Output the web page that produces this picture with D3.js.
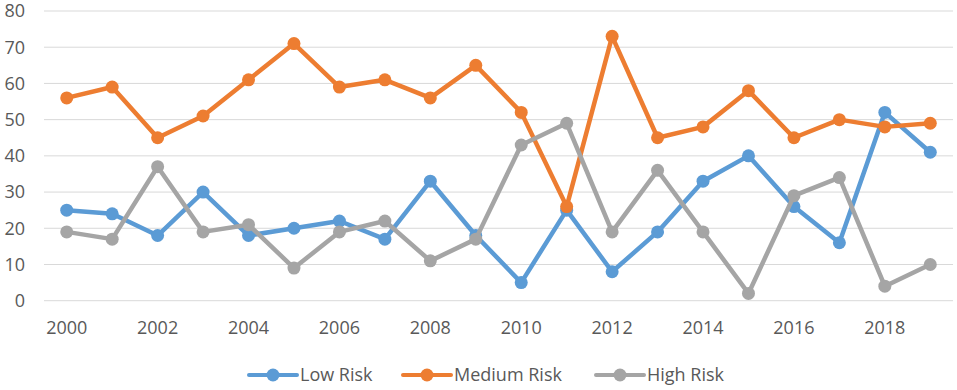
<!DOCTYPE html>
<html>
<head>
<meta charset="utf-8">
<script src="https://cdn.jsdelivr.net/npm/d3@7"></script>
<style>
  body { margin: 0; background: #fff; }
  .label { font-family: "Open Sans", "Liberation Sans", sans-serif; font-size: 18px; fill: #595959; }
</style>
</head>
<body>
<svg id="chart" width="957" height="390"></svg>
<script>
var years = d3.range(2000, 2020);
var low_risk = [25,24,18,30,18,20,22,17,33,18,5,25,8,19,33,40,26,16,52,41];
var medium_risk = [56,59,45,51,61,71,59,61,56,65,52,26,73,45,48,58,45,50,48,49];
var high_risk = [19,17,37,19,21,9,19,22,11,17,43,49,19,36,19,2,29,34,4,10];
var y_ticks = [0,10,20,30,40,50,60,70,80];
var x_ticks = [2000,2002,2004,2006,2008,2010,2012,2014,2016,2018];

var series = [
	{ name: "Low Risk", values: low_risk, color: "#5B9BD5" },
	{ name: "Medium Risk", values: medium_risk, color: "#ED7D31" },
	{ name: "High Risk", values: high_risk, color: "#A5A5A5" }
];

var svg = d3.select("#chart");

var xScale = d3.scalePoint()
			   .domain(years)
			   .range([44, 953])
			   .padding(0.5);

var yScale = d3.scaleLinear()
			   .domain([0, 80])
			   .range([300.7, 11]);

// gridlines
svg.append("g").selectAll("line").data(y_ticks)
	.enter().append("line")
	.attr("x1", 44).attr("x2", 953)
	.attr("y1", function(d){ return yScale(d); })
	.attr("y2", function(d){ return yScale(d); })
	.style("stroke", "#d9d9d9")
	.style("stroke-width", 1);

// y labels
svg.append("g").selectAll("text").data(y_ticks)
	.enter().append("text")
	.attr("x", 25)
	.attr("y", function(d){ return yScale(d); })
	.attr("dy", "0.35em")
	.attr("text-anchor", "end")
	.text(function(d){ return d; })
	.classed("label", true);

// x labels
svg.append("g").selectAll("text").data(x_ticks)
	.enter().append("text")
	.attr("x", function(d){ return xScale(d); })
	.attr("y", 328)
	.attr("dy", "0.35em")
	.attr("text-anchor", "middle")
	.text(function(d){ return d; })
	.classed("label", true);

var line = d3.line()
	.x(function(d, i){ return xScale(years[i]); })
	.y(function(d){ return yScale(d); });

series.forEach(function(s){
	var g = svg.append("g");
	g.append("path")
		.datum(s.values)
		.attr("d", line)
		.style("fill", "none")
		.style("stroke", s.color)
		.style("stroke-width", 4.5)
		.style("stroke-linejoin", "round");
	g.selectAll("circle").data(s.values)
		.enter().append("circle")
		.attr("cx", function(d, i){ return xScale(years[i]); })
		.attr("cy", function(d){ return yScale(d); })
		.attr("r", 6.5)
		.style("fill", s.color);
});

// legend
var legendX = [247, 401, 594];
var legend = svg.append("g").selectAll("g").data(series)
	.enter().append("g")
	.attr("transform", function(d, i){ return "translate(" + legendX[i] + "," + 375 + ")"; });
legend.append("line")
	.attr("x1", 2).attr("x2", 50).attr("y1", 0).attr("y2", 0)
	.style("stroke", function(d){ return d.color; })
	.style("stroke-width", 4)
	.style("stroke-linecap", "round");
legend.append("circle")
	.attr("cx", 26).attr("cy", 0).attr("r", 6.5)
	.style("fill", function(d){ return d.color; });
legend.append("text")
	.attr("x", 53).attr("y", 0).attr("dy", "0.35em")
	.text(function(d){ return d.name; })
	.classed("label", true);
</script>
</body>
</html>
